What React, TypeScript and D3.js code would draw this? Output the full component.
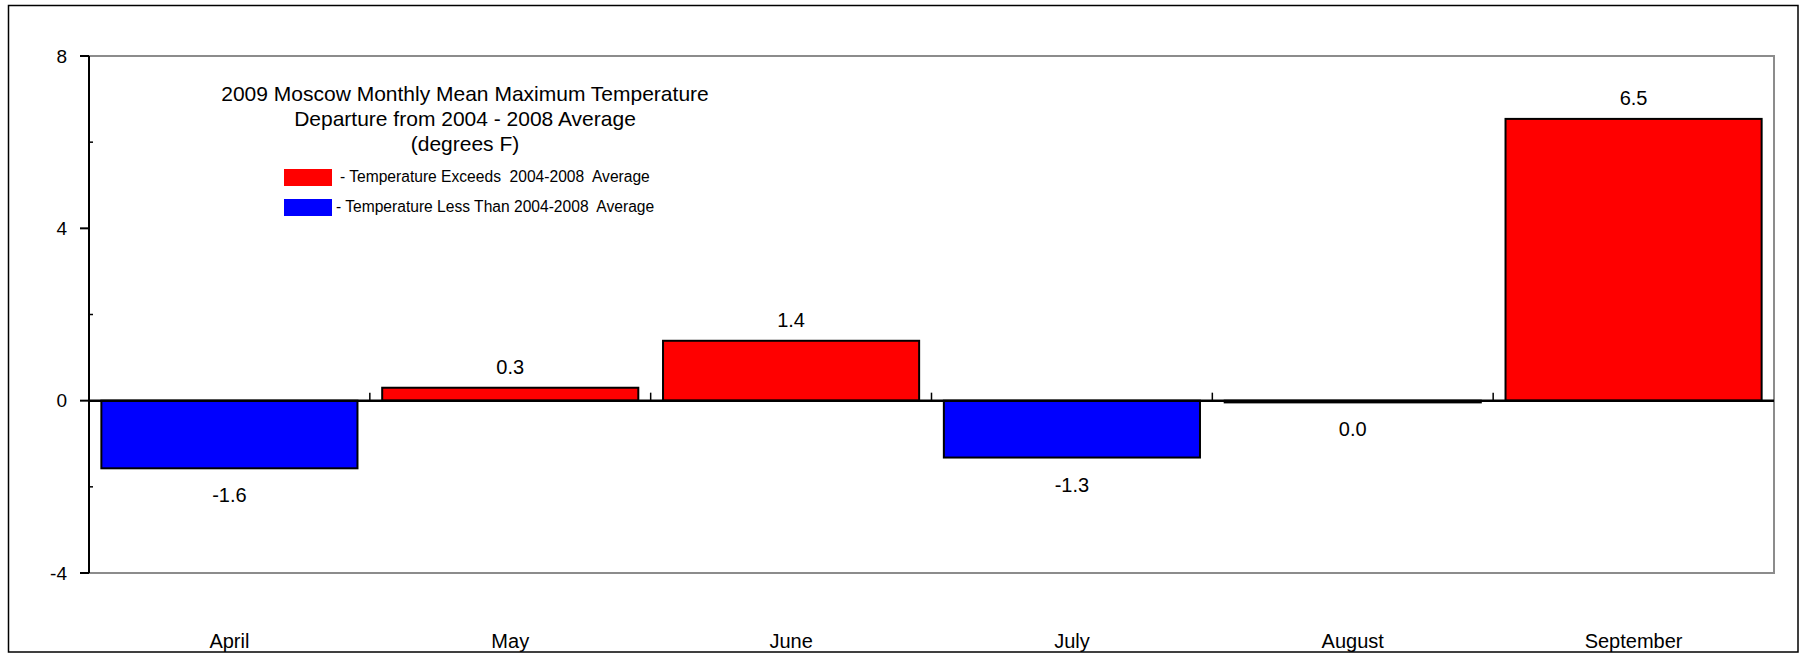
import React, { useEffect, useRef } from 'react';
import * as d3 from 'd3';

// chart values
const months: string[] = ["April", "May", "June", "July", "August", "September"];
const departures: number[] = [-1.57, 0.3, 1.39, -1.32, -0.04, 6.54];
const yTicks: number[] = [-4, 0, 4, 8];
const yMinorTicks: number[] = [-2, 2, 6];
const titleLines: string[] = [
  "2009 Moscow Monthly Mean Maximum Temperature",
  "Departure from 2004 - 2008 Average",
  "(degrees F)",
];
const legendLabels: string[] = [
  "- Temperature Exceeds  2004-2008  Average",
  "- Temperature Less Than 2004-2008  Average",
];

const App = () => {
  const ref = useRef<SVGSVGElement | null>(null);

  useEffect(() => {
    drawChart();
    return () => {
      if (ref.current) d3.select(ref.current).selectAll("*").remove();
    };
  }, []);

  const drawChart = () => {
    // plot area
    const left = 89;
    const right = 1774;
    const top = 56;
    const bottom = 573;
    const font = "'Liberation Sans', Arial, sans-serif";

    const svg = d3.select(ref.current);

    // outer frame
    svg.append("rect")
      .attr("x", 8.5).attr("y", 5.5)
      .attr("width", 1798 - 8.5).attr("height", 652 - 5.5)
      .attr("fill", "white")
      .attr("stroke", "black")
      .attr("stroke-width", 1.5);

    const x = d3.scaleBand<string>()
      .domain(months)
      .range([left, right])
      .paddingInner(0.088)
      .paddingOuter(0.044);

    const y = d3.scaleLinear().domain([-4, 8]).range([bottom, top]);

    // gray plot border (top, right, bottom)
    svg.append("path")
      .attr("d", `M${left},${top}H${right}V${bottom}H${left}`)
      .attr("fill", "none")
      .attr("stroke", "#8c8c8c")
      .attr("stroke-width", 2);

    // bars
    svg.selectAll(".bar")
      .data(departures)
      .enter().append("rect")
      .attr("class", "bar")
      .attr("x", (d, i) => x(months[i])!)
      .attr("width", x.bandwidth())
      .attr("y", d => y(Math.max(0, d)))
      .attr("height", d => Math.abs(y(d) - y(0)))
      .attr("fill", d => (d >= 0 ? "#ff0000" : "#0000ff"))
      .attr("stroke", "black")
      .attr("stroke-width", 2);

    // zero line
    svg.append("line")
      .attr("x1", left).attr("x2", right)
      .attr("y1", y(0)).attr("y2", y(0))
      .attr("stroke", "black")
      .attr("stroke-width", 2.5);

    // category boundary ticks on the zero line
    const step = x.step();
    svg.selectAll(".xtick")
      .data(d3.range(1, months.length))
      .enter().append("line")
      .attr("x1", k => left + k * step).attr("x2", k => left + k * step)
      .attr("y1", y(0)).attr("y2", y(0) - 8)
      .attr("stroke", "black")
      .attr("stroke-width", 1.5);

    // left axis
    svg.append("line")
      .attr("x1", left).attr("x2", left)
      .attr("y1", top).attr("y2", bottom)
      .attr("stroke", "black")
      .attr("stroke-width", 2);

    svg.selectAll(".ytick")
      .data(yTicks)
      .enter().append("line")
      .attr("x1", left - 9).attr("x2", left)
      .attr("y1", d => y(d)).attr("y2", d => y(d))
      .attr("stroke", "black")
      .attr("stroke-width", 2);

    svg.selectAll(".yminor")
      .data(yMinorTicks)
      .enter().append("line")
      .attr("x1", left).attr("x2", left + 4)
      .attr("y1", d => y(d)).attr("y2", d => y(d))
      .attr("stroke", "black")
      .attr("stroke-width", 1.5);

    svg.selectAll(".ylabel")
      .data(yTicks)
      .enter().append("text")
      .attr("x", 67)
      .attr("y", d => y(d))
      .attr("dy", "0.35em")
      .attr("text-anchor", "end")
      .attr("font-family", font)
      .attr("font-size", "19px")
      .attr("fill", "black")
      .text(d => String(d));

    // category labels
    svg.selectAll(".xlabel")
      .data(months)
      .enter().append("text")
      .attr("x", d => x(d)! + x.bandwidth() / 2)
      .attr("y", 648)
      .attr("text-anchor", "middle")
      .attr("font-family", font)
      .attr("font-size", "20px")
      .attr("fill", "black")
      .text(d => d);

    // value labels (plain hyphen for negatives, as in the original)
    const fmt = d3.formatLocale({
      decimal: ".", thousands: ",", grouping: [3], currency: ["$", ""], minus: "-",
    }).format(".1f");
    svg.selectAll(".vlabel")
      .data(departures)
      .enter().append("text")
      .attr("x", (d, i) => x(months[i])! + x.bandwidth() / 2)
      .attr("y", d => (d >= 0 ? y(d) - 14 : y(d) + 34))
      .attr("text-anchor", "middle")
      .attr("font-family", font)
      .attr("font-size", "20px")
      .attr("fill", "black")
      .text(d => fmt(d));

    // title
    svg.selectAll(".title")
      .data(titleLines)
      .enter().append("text")
      .attr("x", 465)
      .attr("y", (d, i) => 101 + i * 25)
      .attr("text-anchor", "middle")
      .attr("font-family", font)
      .attr("font-size", "21px")
      .attr("fill", "black")
      .text(d => d);

    // legend
    const legendColors = ["#ff0000", "#0000ff"];
    const legendRowY = [169, 199];
    svg.selectAll(".legsw")
      .data(legendLabels)
      .enter().append("rect")
      .attr("x", 284)
      .attr("y", (d, i) => legendRowY[i])
      .attr("width", 48)
      .attr("height", 17)
      .attr("fill", (d, i) => legendColors[i]);

    svg.selectAll(".legtext")
      .data(legendLabels)
      .enter().append("text")
      .attr("x", (d, i) => (i === 0 ? 340 : 336))
      .attr("y", (d, i) => legendRowY[i] + 13)
      .attr("font-family", font)
      .attr("font-size", "15.6px")
      .attr("fill", "black")
      .style("white-space", "pre")
      .text(d => d);
  };

  return (
    <svg
      ref={ref}
      width={1805}
      height={654}
      style={{ position: "absolute", left: 0, top: 0, background: "white" }}
    />
  );
};

export default App;
